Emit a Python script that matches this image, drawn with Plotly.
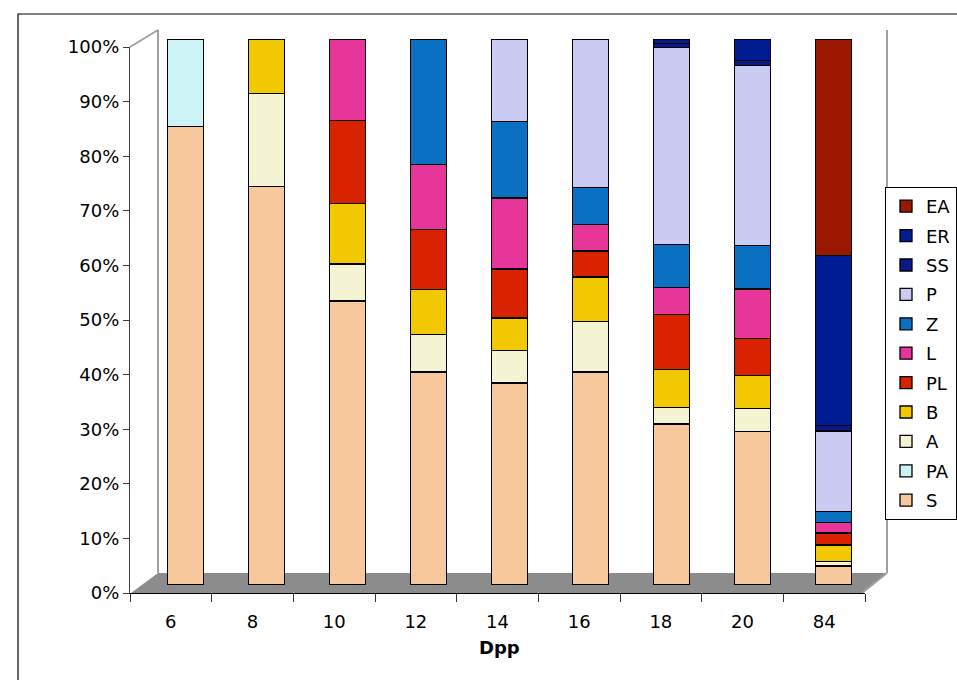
import plotly.graph_objects as go

W, H = 957, 680

categories = ["6", "8", "10", "12", "14", "16", "18", "20", "84"]

S  = [84.0, 73.0, 52.0, 39.0, 37.0, 39.0, 29.5, 28.1, 3.5]
PA = [16.0, 0, 0, 0, 0, 0, 0, 0, 0]
A  = [0, 17.0, 6.8, 6.9, 6.0, 9.2, 3.0, 4.2, 0.8]
B  = [0, 10.0, 11.1, 8.2, 5.9, 8.2, 7.0, 6.1, 3.0]
PL = [0, 0, 15.2, 11.0, 9.0, 4.8, 10.0, 6.8, 2.2]
L  = [0, 0, 14.9, 11.9, 13.0, 4.8, 5.0, 9.0, 1.9]
Z  = [0, 0, 0, 23.0, 14.0, 6.8, 7.9, 8.0, 2.0]
P  = [0, 0, 0, 0, 15.1, 27.2, 36.0, 32.9, 14.8]
SS = [0, 0, 0, 0, 0, 0, 0.8, 0.9, 1.0]
ER = [0, 0, 0, 0, 0, 0, 0.8, 4.0, 31.2]
EA = [0, 0, 0, 0, 0, 0, 0, 0, 39.6]

series_names = ["S", "PA", "A", "B", "PL", "L", "Z", "P", "SS", "ER", "EA"]
series_values = [S, PA, A, B, PL, L, Z, P, SS, ER, EA]
series_colors = ["#F6C89C", "#CDF3F6", "#F4F4D2", "#F2C800", "#D82200", "#E8359A",
                 "#0A70C2", "#CACAF2", "#081A88", "#001C92", "#9A1800"]

y_ticks = [0, 10, 20, 30, 40, 50, 60, 70, 80, 90, 100]


def fx(px):
    return px / W


def fy(py):
    return 1 - py / H


FONT = "DejaVu Sans"

fig = go.Figure()
n = len(series_names)
for i, (name, vals, col) in enumerate(zip(series_names, series_values, series_colors)):
    fig.add_trace(go.Bar(
        x=categories, y=vals, name=name, legendgroup=name, legendrank=100 + (n - i),
        marker=dict(color=col, line=dict(color="black", width=1.3)),
        width=0.44, xaxis="x", yaxis="y",
    ))

# invisible trace to create the front axes subplot
fig.add_trace(go.Scatter(x=[None], y=[None], xaxis="x2", yaxis="y2",
                         showlegend=False, hoverinfo="skip"))

shapes = []
# floor
shapes.append(dict(type="path", xref="paper", yref="paper", layer="below",
                   path=f"M{fx(131)},{fy(593)} L{fx(158)},{fy(573)} L{fx(887)},{fy(573)} "
                        f"L{fx(862)},{fy(593)} Z",
                   fillcolor="#8C8C8C", line=dict(width=0)))
# side wall / back wall edges
for (x0, y0, x1, y1) in [(130, 47, 158, 30), (158, 30, 158, 573), (887, 30, 887, 573),
                         (862, 593, 887, 573)]:
    shapes.append(dict(type="line", xref="paper", yref="paper", layer="below",
                       x0=fx(x0), y0=fy(y0), x1=fx(x1), y1=fy(y1),
                       line=dict(color="#A0A0A0", width=2)))
# outer chart border
shapes.append(dict(type="rect", xref="paper", yref="paper",
                   x0=fx(18), y0=fy(14), x1=1.02, y1=-0.02,
                   line=dict(color="black", width=1.2), fillcolor="rgba(0,0,0,0)"))

fig.update_layout(
    template="none",
    width=W, height=H, autosize=False,
    margin=dict(l=0, r=0, t=0, b=0, pad=0),
    paper_bgcolor="white", plot_bgcolor="rgba(0,0,0,0)",
    barmode="stack",
    font=dict(family=FONT, size=18, color="black"),
    showlegend=True,
    legend=dict(x=1.0, y=fy(187), xanchor="right", yanchor="top",
                traceorder="grouped", tracegroupgap=3,
                bordercolor="black", borderwidth=1, bgcolor="white",
                font=dict(family=FONT, size=18, color="black"),
                itemwidth=30),
    xaxis=dict(domain=[fx(144.9), fx(873.9)], anchor="y", type="category",
               range=[-0.5, 8.5], visible=False, fixedrange=True, automargin=False),
    yaxis=dict(domain=[fy(585), fy(39)], anchor="x", range=[0, 100],
               visible=False, fixedrange=True, automargin=False),
    xaxis2=dict(domain=[fx(130), fx(865)], anchor="y2", range=[-0.5, 8.5],
                tickmode="array", tickvals=list(range(len(categories))), ticktext=categories,
                ticks="outside", ticklen=12, tickcolor="rgba(0,0,0,0)",
                minor=dict(tickvals=[i - 0.5 for i in range(len(categories) + 1)],
                           ticks="outside", ticklen=8, tickcolor="#333333", tickwidth=1),
                showline=True, linecolor="black", linewidth=1.2, showgrid=False,
                zeroline=False, tickfont=dict(size=18), fixedrange=True, automargin=False),
    yaxis2=dict(domain=[fy(593), fy(47)], anchor="x2", range=[0, 100],
                tickmode="array", tickvals=y_ticks, ticktext=[f"{v}%" for v in y_ticks],
                ticks="outside", ticklen=6, tickcolor="#404040",
                showline=True, linecolor="#404040", linewidth=1.2, showgrid=False,
                zeroline=False, tickfont=dict(size=18), fixedrange=True, automargin=False),
    shapes=shapes,
    annotations=[dict(text="<b>Dpp</b>", xref="paper", yref="paper",
                      x=fx(499), y=fy(647), xanchor="center", yanchor="middle",
                      showarrow=False, font=dict(family=FONT, size=18, color="black"))],
)

fig.write_html("out.html")
